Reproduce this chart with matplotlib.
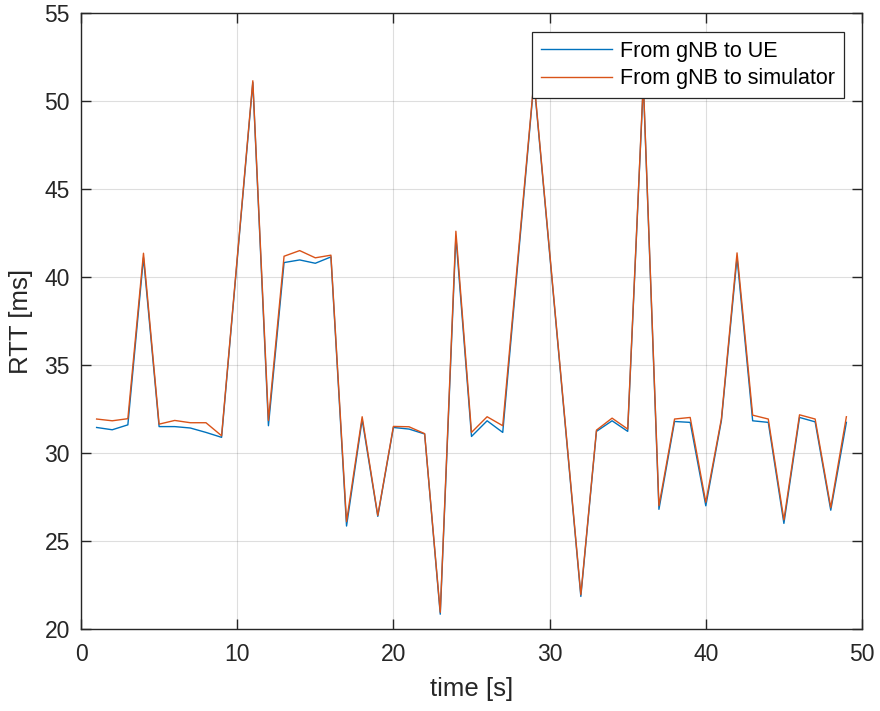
import matplotlib
matplotlib.use("Agg")
import matplotlib.pyplot as plt

# sample times (s) -- no samples at 10, 28, 30, 31
t = [1, 2, 3, 4, 5, 6, 7, 8, 9, 11, 12, 13, 14, 15, 16, 17, 18, 19, 20,
     21, 22, 23, 24, 25, 26, 27, 29, 32, 33, 34, 35, 36, 37, 38, 39, 40,
     41, 42, 43, 44, 45, 46, 47, 48, 49]

rtt_ue = [31.45, 31.32, 31.6, 41.1, 31.5, 31.5, 31.42, 31.17, 30.89, 51.05,
          31.55, 40.82, 40.97, 40.78, 41.14, 25.85, 31.9, 26.4, 31.45,
          31.36, 31.08, 20.84, 42.3, 30.94, 31.83, 31.17, 51.1, 21.85, 31.23,
          31.83, 31.23, 51.0, 26.8, 31.79, 31.74, 27.0, 31.85, 41.1, 31.83,
          31.74, 26.0, 32.02, 31.77, 26.75, 31.74]

rtt_sim = [31.93, 31.83, 31.95, 41.35, 31.64, 31.85, 31.72, 31.72, 30.98, 51.15,
           31.85, 41.18, 41.5, 41.09, 41.24, 26.1, 32.06, 26.45, 31.51,
           31.49, 31.1, 20.95, 42.6, 31.17, 32.06, 31.55, 51.2, 21.95, 31.3,
           31.98, 31.36, 51.1, 27.0, 31.93, 32.02, 27.2, 31.95, 41.37, 32.15,
           31.93, 26.2, 32.17, 31.93, 26.9, 32.06]

plt.rcParams['font.family'] = ['Liberation Sans', 'DejaVu Sans']

fig = plt.figure(figsize=(8.8, 7.11), dpi=100)
# axes box: x 81..862 px, y 13..629 px
ax = fig.add_axes([81 / 880, 82 / 711, 781 / 880, 616 / 711])

ax.plot(t, rtt_ue, color='#0072BD', lw=1.0, label='From gNB to UE')
ax.plot(t, rtt_sim, color='#D95319', lw=1.0, label='From gNB to simulator')

ax.set_xlim(0, 50)
ax.set_ylim(20, 55)
ax.set_xticks(range(0, 51, 10))
ax.set_yticks(range(20, 56, 5))

dark = '#262626'
ax.grid(True, color='#262626', alpha=0.15, lw=0.8)
ax.set_axisbelow(True)
for s in ax.spines.values():
    s.set_color(dark)
    s.set_linewidth(1.0)
ax.tick_params(direction='in', length=7, width=1.0, colors=dark,
               labelsize=16.5, top=True, right=True)
ax.tick_params(axis='x', pad=10)
ax.tick_params(axis='y', pad=8)

ax.set_xlabel('time [s]', fontsize=18.5, color=dark, labelpad=8)
ax.set_ylabel('RTT [ms]', fontsize=18.5, color=dark, labelpad=8)

leg = ax.legend(loc='upper right', bbox_to_anchor=(0.977, 0.969), fontsize=15.5,
                frameon=True, fancybox=False, framealpha=1, borderpad=0.4,
                handlelength=3.3, handletextpad=0.4, labelspacing=0.3,
                borderaxespad=0)
leg.get_frame().set_edgecolor(dark)
leg.get_frame().set_linewidth(0.9)
for txt in leg.get_texts():
    txt.set_color('black')

fig.savefig('out.png', dpi=100)
